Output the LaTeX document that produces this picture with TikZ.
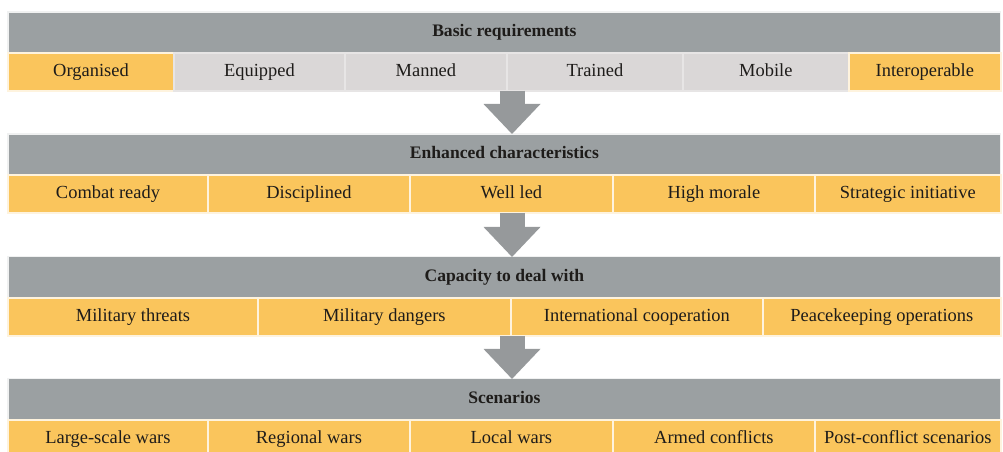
\documentclass[tikz,border=0pt]{standalone}
\usepackage{fontspec}
\setmainfont{Liberation Serif}
\usetikzlibrary{positioning}
\usetikzlibrary{arrows.meta}

\definecolor{bargray}{RGB}{155,160,162}
\definecolor{cellorange}{RGB}{250,197,92}
\definecolor{cellgray}{RGB}{218,215,215}
\definecolor{flowgray}{RGB}{150,153,155}
\definecolor{inkdark}{RGB}{30,28,26}

\tikzset{
  head/.style={fill=bargray, draw=white!85!bargray, line width=0.6pt, anchor=north west,
    minimum width=19.86cm, minimum height=0.82cm, inner sep=0pt, outer sep=0pt,
    text height=0.7em, text depth=0.22em,
    text=inkdark, font=\bfseries\fontsize{10}{12}\selectfont},
  cell/.style={fill=cellorange, draw=white!80!cellorange, line width=0.8pt,
    minimum width=#1, minimum height=0.76cm, inner sep=0pt, outer sep=0pt,
    text height=0.7em, text depth=0.22em,
    text=inkdark, font=\fontsize{10.5}{12}\selectfont},
  greycell/.style={cell=#1, fill=cellgray, draw=white!35!cellgray},
  flow/.style={flowgray, line width=0.5cm,
    -{Triangle[width=1.14cm, length=0.6cm, line width=0pt]}}
}

\begin{document}
\begin{tikzpicture}[x=0.02cm, y=-0.02cm]
\useasboundingbox (0,0) rectangle (1003,451);
\clip (0,0) rectangle (1003,451);
\coordinate (axis) at (512,0);

%basic requirements
\node[head] (basic) at (8,12) {Basic requirements};
\node[cell=3.32cm, below right=0pt and 0pt of basic.south west, anchor=north west] (organised) {Organised};
\node[greycell=3.42cm, right=0pt of organised] (equipped) {Equipped};
\node[greycell=3.24cm, right=0pt of equipped] (manned) {Manned};
\node[greycell=3.52cm, right=0pt of manned] (trained) {Trained};
\node[greycell=3.32cm, right=0pt of trained] (mobile) {Mobile};
\node[cell=3.04cm, right=0pt of mobile] (interop) {Interoperable};

%enhanced characteristics
\node[head, below right=0.86cm and 0pt of organised.south west] (enhanced) {Enhanced characteristics};
\node[cell=4.0cm, below right=0pt and 0pt of enhanced.south west, anchor=north west] (combat) {Combat ready};
\node[cell=4.04cm, right=0pt of combat] (disciplined) {Disciplined};
\node[cell=4.06cm, right=0pt of disciplined] (welled) {Well led};
\node[cell=4.04cm, right=0pt of welled] (morale) {High morale};
\node[cell=3.72cm, right=0pt of morale] (initiative) {Strategic initiative};

%capacity
\node[head, below right=0.88cm and 0pt of combat.south west] (capacity) {Capacity to deal with};
\node[cell=5.0cm, below right=0pt and 0pt of capacity.south west, anchor=north west] (threats) {Military threats};
\node[cell=5.06cm, right=0pt of threats] (dangers) {Military dangers};
\node[cell=5.04cm, right=0pt of dangers] (coop) {International cooperation};
\node[cell=4.76cm, right=0pt of coop] (peace) {Peacekeeping operations};

%scenarios
\node[head, below right=0.86cm and 0pt of threats.south west] (scenarios) {Scenarios};
\node[cell=4.0cm, below right=0pt and 0pt of scenarios.south west, anchor=north west] (largewars) {Large-scale wars};
\node[cell=4.04cm, right=0pt of largewars] (regional) {Regional wars};
\node[cell=4.06cm, right=0pt of regional] (localwars) {Local wars};
\node[cell=4.04cm, right=0pt of localwars] (armed) {Armed conflicts};
\node[cell=3.72cm, right=0pt of armed] (postconflict) {Post-conflict scenarios};

%arrows
\draw[flow] (axis |- manned.south) -- (axis |- enhanced.north);
\draw[flow] (axis |- welled.south) -- (axis |- capacity.north);
\draw[flow] (axis |- coop.south) -- (axis |- scenarios.north);

\end{tikzpicture}
\end{document}
